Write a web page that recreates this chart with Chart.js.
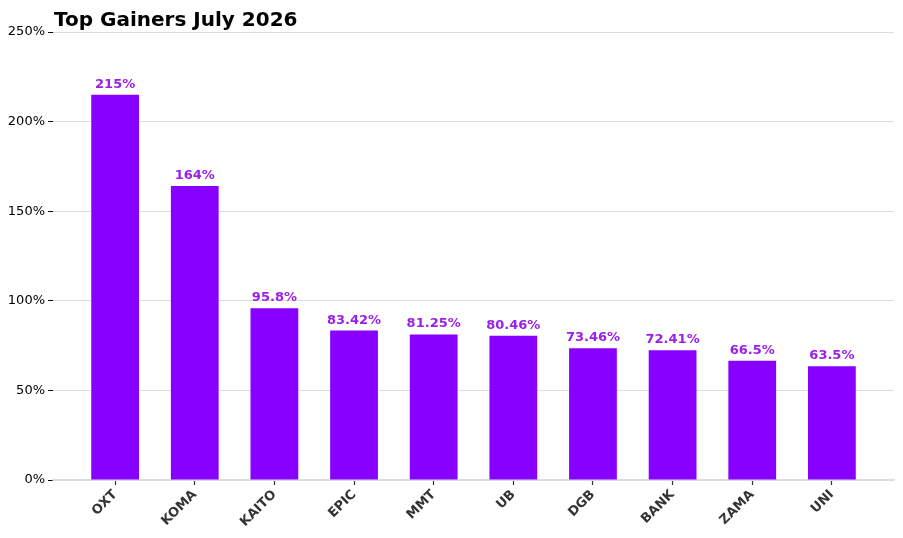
<!DOCTYPE html>
<html>
<head>
<meta charset="utf-8">
<script src="https://cdn.jsdelivr.net/npm/chart.js@4.4.0/dist/chart.umd.min.js"></script>
<style>
  html, body { margin: 0; padding: 0; background: #fff; }
  #wrap { width: 903px; height: 538px; }
</style>
</head>
<body>
<div id="wrap"><canvas id="chart"></canvas></div>
<script>
// Chart data
const categories = ['OXT', 'KOMA', 'KAITO', 'EPIC', 'MMT', 'UB', 'DGB', 'BANK', 'ZAMA', 'UNI'];
const gains = [215, 164, 95.8, 83.42, 81.25, 80.46, 73.46, 72.41, 66.5, 63.5];
const gainLabels = ['215%', '164%', '95.8%', '83.42%', '81.25%', '80.46%', '73.46%', '72.41%', '66.5%', '63.5%'];
const yTicks = [0, 50, 100, 150, 200, 250];
const titleText = 'Top Gainers July 2026';

const FONT = "'DejaVu Sans', sans-serif";

// Title drawn at the left edge of the plot area
const titlePlugin = {
    id: 'leftTitle',
    afterDraw(chart) {
        const ctx = chart.ctx;
        ctx.save();
        ctx.font = 'bold 20px ' + FONT;
        ctx.fillStyle = '#000';
        ctx.textAlign = 'left';
        ctx.textBaseline = 'alphabetic';
        ctx.fillText(titleText, chart.chartArea.left + 1, 26);
        ctx.restore();
    }
};

// Value labels above bars
const valueLabels = {
    id: 'valueLabels',
    afterDatasetsDraw(chart) {
        const ctx = chart.ctx;
        const meta = chart.getDatasetMeta(0);
        ctx.save();
        ctx.font = 'bold 13px ' + FONT;
        ctx.fillStyle = '#9b1fe8';
        ctx.textAlign = 'center';
        ctx.textBaseline = 'alphabetic';
        meta.data.forEach((bar, i) => {
            ctx.fillText(gainLabels[i], bar.x, bar.y - 7);
        });
        ctx.restore();
    }
};

new Chart(document.getElementById('chart'), {
    type: 'bar',
    data: {
        datasets: [{
            data: gains.map((v, i) => ({ x: i, y: v })),
            backgroundColor: '#8800ff',
            borderWidth: 0,
            barPercentage: 0.6,
            categoryPercentage: 1.0
        }]
    },
    options: {
        responsive: true,
        maintainAspectRatio: false,
        animation: false,
        layout: { padding: { top: 32, right: 9, left: 0, bottom: 0 } },
        plugins: {
            legend: { display: false },
            tooltip: { enabled: false },
            title: { display: false }
        },
        scales: {
            x: {
                type: 'linear',
                offset: false,
                min: -0.78,
                max: 9.78,
                afterBuildTicks(scale) {
                    scale.ticks = categories.map((c, i) => ({ value: i }));
                },
                afterFit(scale) { scale.height = 58; },
                grid: {
                    offset: false,
                    drawOnChartArea: false,
                    drawTicks: true,
                    tickLength: 5,
                    tickColor: '#333333',
                    tickWidth: 1.2
                },
                border: { display: true, color: '#dddddd', width: 1.5 },
                ticks: {
                    autoSkip: false,
                    maxRotation: 45,
                    minRotation: 45,
                    padding: 2,
                    color: '#333333',
                    font: { family: FONT, size: 13, weight: 'bold' },
                    callback: (v) => categories[v]
                }
            },
            y: {
                min: 0,
                max: 250,
                afterBuildTicks(scale) {
                    scale.ticks = yTicks.map(v => ({ value: v }));
                },
                afterFit(scale) { scale.width = 53; },
                grid: {
                    color: '#dddddd',
                    lineWidth: 1,
                    drawTicks: true,
                    tickLength: 5,
                    tickColor: '#000000'
                },
                border: { display: false },
                ticks: {
                    padding: 3,
                    color: '#000000',
                    font: { family: FONT, size: 13 },
                    callback: (v) => v + '%'
                }
            }
        }
    },
    plugins: [titlePlugin, valueLabels]
});
</script>
</body>
</html>
